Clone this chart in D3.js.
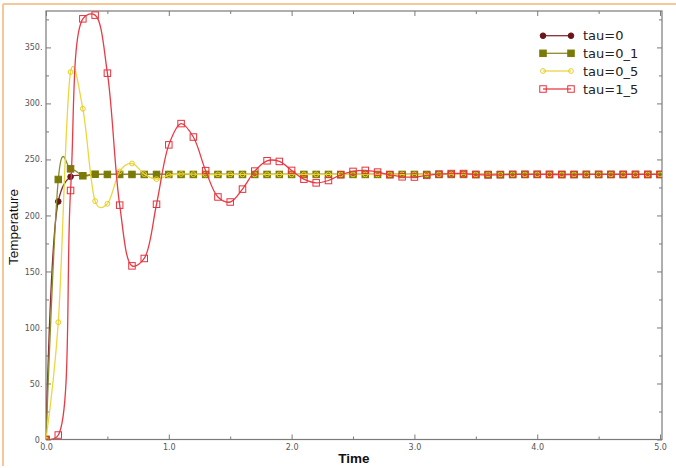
<!DOCTYPE html>
<html>
<head>
<meta charset="utf-8">
<script src="https://cdn.jsdelivr.net/npm/d3@7/dist/d3.min.js"></script>
<style>
html,body{margin:0;padding:0;background:#fff;}
svg{display:block;}
</style>
</head>
<body>
<svg id="chart" width="676" height="468"></svg>
<script>
// ---- data ----
const times = [0.0,0.1,0.2,0.3,0.4,0.5,0.6,0.7,0.8,0.9,
  1.0,1.1,1.2,1.3,1.4,1.5,1.6,1.7,1.8,1.9,
  2.0,2.1,2.2,2.3,2.4,2.5,2.6,2.7,2.8,2.9,
  3.0,3.1,3.2,3.3,3.4,3.5,3.6,3.7,3.8,3.9,
  4.0,4.1,4.2,4.3,4.4,4.5,4.6,4.7,4.8,4.9,5.0];
const tau0 = [0,212.5,234.5,235.6,236.5,236.6,236.6,236.6,236.6,236.6,
  236.6,236.6,236.6,236.6,236.6,236.6,236.6,236.6,236.6,236.6,
  236.6,236.6,236.6,236.6,236.6,236.6,236.6,236.6,236.6,236.6,
  236.6,236.6,236.6,236.6,236.6,236.6,236.6,236.6,236.6,236.6,
  236.6,236.6,236.6,236.6,236.6,236.6,236.6,236.6,236.6,236.6,236.6];
const tau0_1 = [0,232.1,241.6,235.4,236.8,236.6,236.6,236.6,236.6,236.6,
  236.6,236.6,236.6,236.6,236.6,236.6,236.6,236.6,236.6,236.6,
  236.6,236.6,236.6,236.6,236.6,236.6,236.6,236.6,236.6,236.6,
  236.6,236.6,236.6,236.6,236.6,236.6,236.6,236.6,236.6,236.6,
  236.6,236.6,236.6,236.6,236.6,236.6,236.6,236.6,236.6,236.6,236.6];
const tau0_5 = [0,104.7,328.0,295.2,212.8,210.4,239.3,246.4,236.9,232.4,
  236.0,237.0,236.8,236.5,236.6,236.6,236.6,236.6,236.6,236.6,
  236.6,236.6,236.6,236.6,236.6,236.6,236.6,236.6,236.6,236.6,
  236.6,236.6,236.6,236.6,236.6,236.6,236.6,236.6,236.6,236.6,
  236.6,236.6,236.6,236.6,236.6,236.6,236.6,236.6,236.6,236.6,236.6];
const tau1_5 = [0,4.0,222.3,375.5,378.8,327.0,209.2,155.0,161.6,210.0,
  263.0,282.0,270.0,240.0,216.5,212.0,223.5,239.6,248.8,248.2,
  240.2,232.4,229.1,231.2,236.3,239.3,240.2,238.7,236.3,234.5,
  234.3,235.8,236.9,237.4,237.4,236.5,236.1,236.3,236.6,236.7,
  236.7,236.6,236.5,236.5,236.6,236.6,236.6,236.6,236.6,236.6,236.6];
const seriesNames = ["tau=0","tau=0_1","tau=0_5","tau=1_5"];
const xTickMajor = [0,1,2,3,4,5];
const xTickMinor = [0.5,1.5,2.5,3.5,4.5];
const yTickMajor = [0,50,100,150,200,250,300,350];
const yTickMinor = [25,75,125,175,225,275,325,375];

// ---- styles ----
const styles = [
  {line:"#8a2e30", mark:"#6a1518", shape:"circle", fill:true, size:2.8, alpha:0.4},
  {line:"#8c8c2e", mark:"#7a7a08", shape:"square", fill:true, size:6.5, alpha:0},
  {line:"#ecd640", mark:"#e6cf20", shape:"circle", fill:false, size:2.4, alpha:0.15},
  {line:"#ea3a44", mark:"#e8303c", shape:"square", fill:false, size:6.5, alpha:0.45}
];
const allSeries = [tau0, tau0_1, tau0_5, tau1_5];

const svg = d3.select("#chart");
svg.append("rect").attr("width",676).attr("height",468).attr("fill","#fff");

svg.append("line").attr("x1",3).attr("x2",676).attr("y1",4).attr("y2",4)
  .attr("stroke","#f6c896").attr("stroke-width",2);
svg.append("line").attr("x1",3).attr("x2",3).attr("y1",4).attr("y2",466)
  .attr("stroke","#f6c896").attr("stroke-width",2);

const x = d3.scaleLinear().domain([0,5.016]).range([46,662]);
const y = d3.scaleLinear().domain([0,382.5]).range([439.5,11]);

svg.append("clipPath").attr("id","clip").append("rect")
  .attr("x",46).attr("y",11).attr("width",616).attr("height",428.5);

const axCol = "#7a7a7a";
svg.append("rect").attr("x",46).attr("y",11).attr("width",616).attr("height",428.5)
  .attr("fill","none").attr("stroke",axCol).attr("stroke-width",1.2);

const tickFont = "'DejaVu Sans', sans-serif";
function styleAxis(g){
  g.select(".domain").remove();
  g.selectAll(".tick line").attr("stroke",axCol);
  g.selectAll(".tick text").attr("fill","#555").attr("font-family",tickFont).attr("font-size",8);
}
svg.append("g").attr("transform","translate(0,439.5)")
  .call(d3.axisBottom(x).tickValues(xTickMajor).tickSize(-5).tickPadding(4.5).tickFormat(d=>d.toFixed(1)))
  .call(styleAxis);
svg.append("g").attr("transform","translate(0,439.5)")
  .call(d3.axisBottom(x).tickValues(xTickMinor).tickSize(-3).tickFormat(""))
  .call(styleAxis);
svg.append("g").attr("transform","translate(0,11)")
  .call(d3.axisTop(x).tickValues(xTickMajor).tickSize(-5).tickFormat(""))
  .call(styleAxis);
svg.append("g").attr("transform","translate(0,11)")
  .call(d3.axisTop(x).tickValues(xTickMinor).tickSize(-3).tickFormat(""))
  .call(styleAxis);
svg.append("g").attr("transform","translate(46,0)")
  .call(d3.axisLeft(y).tickValues(yTickMajor).tickSize(-5).tickPadding(3.5).tickFormat(d=>d+"."))
  .call(styleAxis);
svg.append("g").attr("transform","translate(46,0)")
  .call(d3.axisLeft(y).tickValues(yTickMinor).tickSize(-3).tickFormat(""))
  .call(styleAxis);
svg.append("g").attr("transform","translate(662,0)")
  .call(d3.axisRight(y).tickValues(yTickMajor).tickSize(-5).tickFormat(""))
  .call(styleAxis);
svg.append("g").attr("transform","translate(662,0)")
  .call(d3.axisRight(y).tickValues(yTickMinor).tickSize(-3).tickFormat(""))
  .call(styleAxis);

svg.append("text").attr("x",354).attr("y",463).attr("text-anchor","middle")
  .attr("font-family","'Liberation Sans', Arial, sans-serif").attr("font-size",13.5)
  .attr("font-weight","bold").attr("fill","#111").text("Time");
svg.append("text").attr("transform","translate(18,227) rotate(-90)").attr("text-anchor","middle")
  .attr("font-family","'Liberation Sans', Arial, sans-serif").attr("font-size",13.5)
  .attr("fill","#111").text("Temperature");

const plot = svg.append("g").attr("clip-path","url(#clip)");

function drawMarker(g, cx, cy, st){
  if(st.shape==="circle"){
    g.append("circle").attr("cx",cx).attr("cy",cy).attr("r",st.size)
      .attr("fill",st.fill?st.mark:"none").attr("stroke",st.mark).attr("stroke-width",1);
  } else {
    const s = st.size;
    g.append("rect").attr("x",cx-s/2).attr("y",cy-s/2).attr("width",s).attr("height",s)
      .attr("fill",st.fill?st.mark:"none").attr("stroke",st.mark).attr("stroke-width",1);
  }
}

allSeries.forEach((vals,k)=>{
  const st = styles[k];
  const lineGen = d3.line().x((d,i)=>x(times[i])).y(d=>y(d)).curve(d3.curveCatmullRom.alpha(st.alpha));
  const g = plot.append("g");
  g.append("path").datum(vals).attr("d",lineGen).attr("fill","none")
    .attr("stroke",st.line).attr("stroke-width",1.3);
  vals.forEach((v,i)=>drawMarker(g, x(times[i]), y(v), st));
});

const legY = [35.7,53.3,71,89];
seriesNames.forEach((name,k)=>{
  const st = styles[k];
  const g = svg.append("g");
  g.append("line").attr("x1",543).attr("x2",571).attr("y1",legY[k]).attr("y2",legY[k])
    .attr("stroke",st.line).attr("stroke-width",1.3);
  drawMarker(g,543,legY[k],st);
  drawMarker(g,571,legY[k],st);
  g.append("text").attr("x",583).attr("y",legY[k]).attr("dy","0.36em")
    .attr("font-family","'DejaVu Sans', sans-serif").attr("font-size",13)
    .attr("fill","#222").text(name);
});
</script>
</body>
</html>
